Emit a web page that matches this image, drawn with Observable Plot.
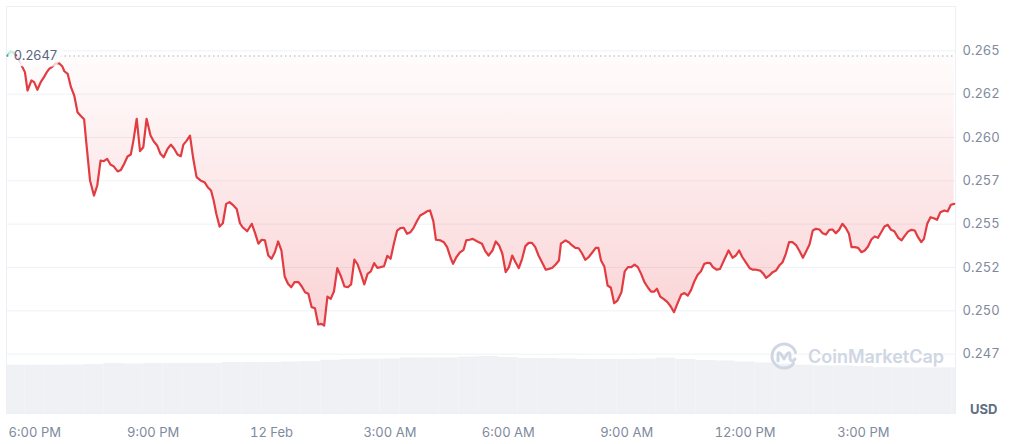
<!DOCTYPE html>
<html>
<head>
<meta charset="utf-8">
<script src="https://cdn.jsdelivr.net/npm/d3@7"></script>
<script src="https://cdn.jsdelivr.net/npm/@observablehq/plot@0.6"></script>
<style>
  html, body { margin: 0; padding: 0; background: #ffffff; }
  body { font-family: Inter, "Noto Sans", sans-serif; }
  #wrap { position: relative; width: 1024px; height: 444px; overflow: hidden; }
  #wrap > svg { position: absolute; left: 0; top: 0; }
  #usd { position: absolute; left: 970px; top: 401px; font: 700 13px/16px Inter, sans-serif; color: #616e85; }
</style>
</head>
<body>
<div id="wrap">
  <div id="usd">USD</div>
</div>
<script>
// ---- data ----
const baseTime = Date.UTC(2024, 1, 11, 18, 0); // 11 Feb, 6:00 PM
const minutes = [-41,-37,-31,-24,-20,-15,-11,-5,-1,4,9,14,18,22,27,32,37,42,45,50,55,60,65,70,75,79,84,90,95,100,105,110,115,120,126,131,136,141,146,150,155,160,165,170,176,181,186,191,196,202,207,212,217,222,226,231,236,241,246,252,258,263,268,272,276,281,286,291,296,302,307,312,316,323,330,335,340,345,350,355,360,365,370,375,380,385,390,395,401,406,411,416,421,426,431,436,440,445,450,455,460,465,471,476,481,486,491,496,501,506,511,516,521,526,531,536,541,546,551,556,561,566,571,576,581,586,592,597,601,606,610,617,622,627,632,636,641,646,652,656,661,666,673,680,685,690,696,701,706,711,716,721,726,731,736,741,746,751,756,761,766,772,777,782,787,792,797,800,807,812,817,822,827,832,837,842,848,853,857,861,866,871,876,881,886,892,897,902,907,912,917,922,927,932,937,942,946,951,956,962,967,972,977,983,988,993,998,1003,1008,1013,1018,1023,1027,1031,1037,1042,1049,1055,1061,1066,1071,1076,1082,1087,1092,1097,1103,1108,1112,1117,1122,1127,1132,1137,1142,1147,1152,1158,1163,1168,1173,1178,1183,1188,1193,1198,1203,1208,1213,1218,1223,1228,1233,1238,1242,1247,1252,1257,1262,1267,1272,1277,1282,1287,1292,1297,1302,1307,1313,1318,1323,1328,1333,1338,1343,1348,1352,1357,1362,1367,1372,1377,1383,1388,1393,1398];
const prices = [0.26473,0.26496,0.26487,0.26450,0.26415,0.26377,0.26271,0.26329,0.26319,0.26275,
0.26319,0.26348,0.26375,0.26396,0.26409,0.26428,0.26428,0.26409,0.26382,0.26367,
0.26290,0.26242,0.26146,0.26124,0.26105,0.25944,0.25752,0.25665,0.25723,0.25867,
0.25863,0.25877,0.25844,0.25833,0.25804,0.25813,0.25848,0.25890,0.25902,0.25982,
0.26108,0.25921,0.25944,0.26108,0.26011,0.25977,0.25954,0.25906,0.25886,0.25935,
0.25959,0.25935,0.25902,0.25892,0.25959,0.25982,0.26011,0.25877,0.25771,0.25752,
0.25742,0.25713,0.25694,0.25636,0.25560,0.25486,0.25505,0.25617,0.25627,0.25608,
0.25588,0.25505,0.25482,0.25459,0.25502,0.25448,0.25387,0.25410,0.25406,0.25319,
0.25300,0.25338,0.25400,0.25348,0.25198,0.25156,0.25136,0.25165,0.25165,0.25140,
0.25107,0.25098,0.25021,0.25015,0.24921,0.24925,0.24915,0.25082,0.25069,0.25113,
0.25246,0.25204,0.25140,0.25136,0.25152,0.25296,0.25267,0.25213,0.25152,0.25213,
0.25227,0.25275,0.25248,0.25252,0.25257,0.25317,0.25300,0.25387,0.25463,0.25477,
0.25479,0.25444,0.25453,0.25479,0.25517,0.25550,0.25563,0.25575,0.25579,0.25517,
0.25410,0.25406,0.25396,0.25367,0.25309,0.25271,0.25309,0.25335,0.25352,0.25406,
0.25410,0.25415,0.25400,0.25387,0.25344,0.25319,0.25348,0.25400,0.25377,0.25329,
0.25223,0.25252,0.25319,0.25280,0.25246,0.25300,0.25373,0.25392,0.25392,0.25367,
0.25319,0.25275,0.25237,0.25242,0.25248,0.25267,0.25290,0.25387,0.25406,0.25396,
0.25377,0.25363,0.25361,0.25332,0.25294,0.25309,0.25338,0.25363,0.25363,0.25290,
0.25256,0.25146,0.25133,0.25044,0.25059,0.25107,0.25227,0.25252,0.25252,0.25267,
0.25252,0.25213,0.25165,0.25136,0.25111,0.25111,0.25127,0.25082,0.25069,0.25050,
0.25025,0.24992,0.25040,0.25094,0.25102,0.25088,0.25121,0.25171,0.25208,0.25228,
0.25271,0.25277,0.25275,0.25252,0.25237,0.25242,0.25300,0.25348,0.25306,0.25319,
0.25348,0.25309,0.25275,0.25246,0.25237,0.25237,0.25232,0.25213,0.25190,0.25204,
0.25223,0.25232,0.25261,0.25280,0.25329,0.25396,0.25396,0.25377,0.25344,0.25306,
0.25344,0.25383,0.25463,0.25473,0.25469,0.25448,0.25440,0.25467,0.25469,0.25448,
0.25467,0.25502,0.25479,0.25444,0.25367,0.25367,0.25363,0.25338,0.25348,0.25371,
0.25411,0.25429,0.25421,0.25453,0.25486,0.25496,0.25467,0.25459,0.25421,0.25406,
0.25434,0.25458,0.25467,0.25463,0.25425,0.25396,0.25415,0.25502,0.25540,0.25534,
0.25525,0.25569,0.25579,0.25573,0.25612,0.25617];
const refPrice = 0.2647;

// volume (relative units), 30-minute bins starting at these minute offsets
const volumeStart = [-45,-15,15,45,75,105,135,165,195,225,255,285,315,345,375,405,435,465,495,525,555,585,615,645,675,705,735,765,795,825,855,885,915,945,975,1005,1035,1065,1095,1125,1155,1185,1215,1245,1275,1305,1335,1365,1395];
const volumes = [48.3,48.3,48.3,48.5,49,50,49.5,50,50,50,
50,51,51,51,51.5,52,53.3,53.8,54.3,54.5,
55.6,55.6,55.6,56.5,57,56,55,55,54.5,54,
54,54,54.3,55.3,54,53,52.5,51.5,50.5,49.2,
48.3,47.6,47.6,47,45.8,45.6,45.6,45.6,45.6];
const volumeBin = 30;

const yTicks = [0.2475, 0.25, 0.2525, 0.255, 0.2575, 0.26, 0.2625, 0.265];
const yLabels = ["0.247", "0.250", "0.252", "0.255", "0.257", "0.260", "0.262", "0.265"];
const xTickMinutes = [0, 180, 360, 540, 720, 900, 1080, 1260];
const xLabels = ["6:00 PM", "9:00 PM", "12 Feb", "3:00 AM", "6:00 AM", "9:00 AM", "12:00 PM", "3:00 PM"];
const domainMinutes = [-43, 1400];
const yDomain = [0.244075, 0.267556];

// ---- build ----
const at = m => new Date(baseTime + m * 60000);
const data = minutes.map((m, i) => ({time: at(m), price: prices[i]}));
const vol = volumeStart.map((m, i) => ({t1: at(m), t2: at(m + volumeBin), v: volumes[i]}));
const xTickDates = xTickMinutes.map(at);

const W = 1024, H = 444;
const dims = {width: W, height: H, marginLeft: 6, marginRight: 69, marginTop: 6, marginBottom: 31};
const wrap = document.getElementById("wrap");

const volPlot = Plot.plot({
  ...dims,
  style: {background: "transparent"},
  x: {type: "utc", domain: domainMinutes.map(at), axis: null},
  y: {domain: [0, 100], range: [413, 313], axis: null},
  marks: [
    Plot.rectY(vol, {x1: "t1", x2: "t2", y: "v", fill: "#eff1f5", inset: 0, clip: true})
  ]
});
wrap.appendChild(volPlot);

const pricePlot = Plot.plot({
  ...dims,
  style: {background: "transparent", fontFamily: "Inter, sans-serif"},
  x: {type: "utc", domain: domainMinutes.map(at), axis: null},
  y: {domain: yDomain, axis: null},
  marks: [
    Plot.frame({stroke: "#eceff3"}),
    Plot.ruleY(yTicks, {stroke: "#eff1f4", strokeWidth: 1}),
    Plot.areaY(data, {x: "time", y1: d => Math.min(d.price, refPrice), y2: () => refPrice, fill: "url(#redFill)"}),
    Plot.areaY(data, {x: "time", y1: () => refPrice, y2: d => Math.max(d.price, refPrice), fill: "#16c784", fillOpacity: 0.12}),
    Plot.ruleY([refPrice], {stroke: "#a6b0c3", strokeDasharray: "1.5,3"}),
    Plot.line(data, {x: "time", y: "price", stroke: "#e23b41", strokeWidth: 2.2, strokeLinejoin: "round"}),
    Plot.line(data.filter(d => d.price >= refPrice), {x: "time", y: "price", stroke: "#16c784", strokeWidth: 2}),
    // label with a soft white box (text halo) over the start of the line
    Plot.text(data.slice(0, 1), {x: "time", y: () => refPrice, text: () => String(refPrice), dx: 6, textAnchor: "start",
      fill: "#58667e", fontSize: 13, stroke: "#ffffff", strokeOpacity: 0.75, strokeWidth: 13, strokeLinejoin: "round", paintOrder: "stroke"}),
    Plot.axisY(yTicks, {anchor: "right", tickSize: 0, tickPadding: 7, label: null,
      tickFormat: d => yLabels[yTicks.indexOf(d)], fontSize: 13, fill: "#808a9d"}),
    Plot.axisX(xTickDates, {anchor: "bottom", tickSize: 0, tickPadding: 14, label: null,
      tickFormat: d => xLabels[xTickDates.findIndex(e => +e === +d)], fontSize: 13, fill: "#808a9d"})
  ]
});
wrap.appendChild(pricePlot);

// gradient definition for the red fill
const svgSel = d3.select(pricePlot);
const grad = svgSel.insert("defs", ":first-child").append("linearGradient")
  .attr("id", "redFill").attr("x1", 0).attr("y1", 0).attr("x2", 0).attr("y2", 1);
grad.append("stop").attr("offset", "0%").attr("stop-color", "#ea3943").attr("stop-opacity", 0.015);
grad.append("stop").attr("offset", "100%").attr("stop-color", "#ea3943").attr("stop-opacity", 0.22);

// watermark
const wm = d3.select(wrap).append("svg")
  .attr("width", 200).attr("height", 40)
  .style("left", "762px").style("top", "336px");
const lg = wm.append("g").attr("transform", "translate(22,20)")
  .attr("fill", "none").attr("stroke", "#cfd6e4").attr("stroke-width", 3).attr("stroke-linecap", "round").attr("stroke-linejoin", "round");
lg.append("path").attr("d", "M 9.5 7.5 A 12 12 0 1 1 11.5 -3.5");
lg.append("path").attr("d", "M -6 5 L -6 -1 Q -6 -5 -3 -2 L 0 3 L 3 -2 Q 6 -5 6 -1 L 6 3 Q 8 7 11 3");
wm.append("text").attr("x", 46).attr("y", 27)
  .attr("fill", "#cfd6e4").attr("font-family", "Inter, sans-serif").attr("font-weight", 600).attr("font-size", 18)
  .text("CoinMarketCap");
</script>
</body>
</html>
